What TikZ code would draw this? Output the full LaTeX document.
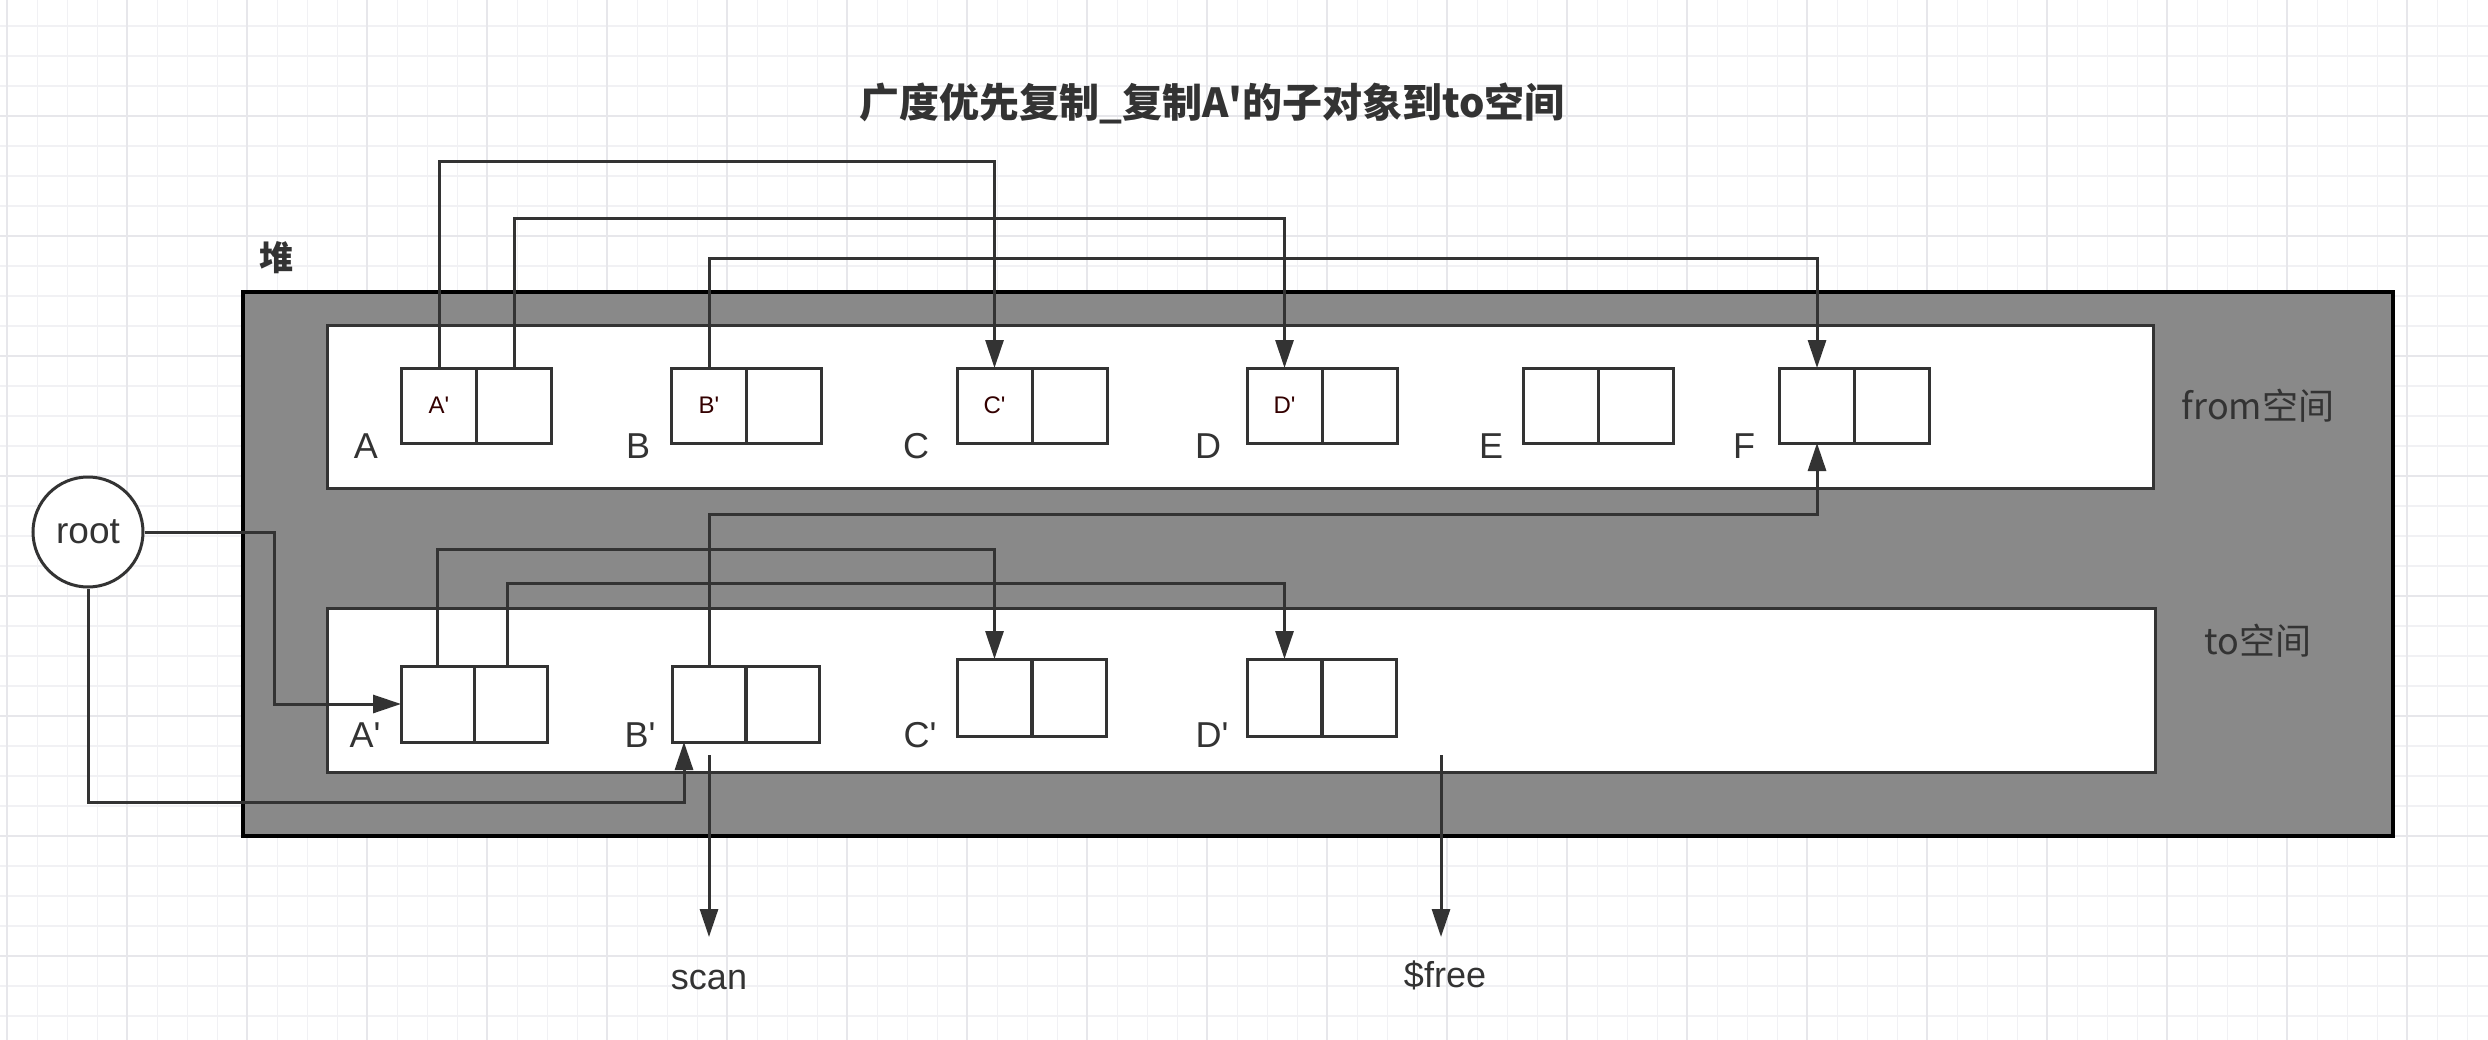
\documentclass[tikz,border=0pt]{standalone}
\usepackage{fontspec}
\setmainfont{Liberation Sans}
\newfontfamily\cjk{Noto Sans CJK SC}
\usetikzlibrary{arrows.meta,calc}
\definecolor{ink}{HTML}{333333}
\definecolor{heapgray}{HTML}{898989}
\definecolor{innerred}{HTML}{330000}
\definecolor{gridminor}{HTML}{F1F1F4}
\definecolor{gridmajor}{HTML}{E7E7EB}
\newcommand\ap{\textquotesingle}
\begin{document}
\begin{tikzpicture}[x=1pt,y=-1pt,
  cell/.style={draw=ink, line width=3pt, fill=white, minimum width=75pt, minimum height=75pt,
    inner sep=0pt, outer sep=0pt, text=innerred, font=\fontsize{24}{26}\selectfont},
  tcell/.style={cell, minimum width=73pt, minimum height=76pt},
  conn/.style={draw=ink, line width=3pt, line join=miter},
  arr/.style={conn, -{Triangle[length=28pt,width=18pt]}},
  lbl/.style={text=ink, inner sep=0pt, font=\fontsize{36}{40}\selectfont},
  cjklbl/.style={text=ink, inner sep=0pt, font=\cjk\fontsize{36}{40}\selectfont},
  space/.style={draw=ink, line width=3pt, fill=white}
]
\useasboundingbox (0,0) rectangle (2488,1040);
\fill[white] (0,0) rectangle (2488,1040);
% grid
\foreach \i in {0,...,82} {\draw[gridminor, line width=1.6pt] ({7.3+30*\i},0) -- ++(0,1040);}
\foreach \i in {0,...,34} {\draw[gridminor, line width=1.6pt] (0,{-4+30*\i}) -- ++(2488,0);}
\foreach \i in {0,...,20} {\draw[gridmajor, line width=2.2pt] ({7.3+120*\i},0) -- ++(0,1040);}
\foreach \i in {0,...,8} {\draw[gridmajor, line width=2.2pt] (0,{116+120*\i}) -- ++(2488,0);}

% title and heap label
\node[text=ink, inner sep=0pt, font=\cjk\bfseries\fontsize{40}{44}\selectfont] (title) at (1212,103)
  {广度优先复制\_复制A\ap 的子对象到to空间};
\node[text=ink, inner sep=0pt, font=\cjk\bfseries\fontsize{34}{38}\selectfont] (heaplbl) at (276,258) {堆};

% heap and spaces
\draw[fill=heapgray, draw=black, line width=4.5pt] (243,292) rectangle (2393,836);
\draw[space] (327,326) rectangle (2153,488);
\draw[space] (327,608) rectangle (2155,772);
\node[cjklbl] (fromlbl) at (2258,406) {from空间};
\node[cjklbl] (tolbl) at (2258,641) {to空间};

% from-space objects
\node[cell] (fAl) at (439,405.5) {A\ap};   \node[cell] (fAr) at (514,405.5) {};
\node[cell] (fBl) at (709,405.5) {B\ap};   \node[cell] (fBr) at (784,405.5) {};
\node[cell] (fCl) at (994.5,405.5) {C\ap}; \node[cell] (fCr) at (1069.5,405.5) {};
\node[cell] (fDl) at (1284.5,405.5) {D\ap};\node[cell] (fDr) at (1359.5,405.5) {};
\node[cell] (fEl) at (1561,405.5) {};      \node[cell] (fEr) at (1636,405.5) {};
\node[cell] (fFl) at (1817,405.5) {};      \node[cell] (fFr) at (1892,405.5) {};
\node[lbl] (lA) at (366,446) {A};
\node[lbl] (lB) at (638,446) {B};
\node[lbl] (lC) at (916,446) {C};
\node[lbl] (lD) at (1208,446) {D};
\node[lbl] (lE) at (1491,446) {E};
\node[lbl] (lF) at (1744,446) {F};

% to-space objects
\node[tcell] (tAl) at (437.5,704) {}; \node[tcell] (tAr) at (510.5,704) {};
\node[tcell] (tBl) at (709,704) {};   \node[tcell] (tBr) at (783,704) {};
\node[tcell, minimum width=74.5pt, minimum height=77pt] (tCl) at (994.5,697.5) {};
\node[tcell, minimum width=74.5pt, minimum height=77pt] (tCr) at (1069.5,697.5) {};
\node[tcell, minimum width=74.5pt, minimum height=77pt] (tDl) at (1284.5,697.5) {};
\node[tcell, minimum width=74.5pt, minimum height=77pt] (tDr) at (1359.5,697.5) {};
\node[lbl] (lAp) at (365,735) {A\ap};
\node[lbl] (lBp) at (640,735) {B\ap};
\node[lbl] (lCp) at (920,735) {C\ap};
\node[lbl] (lDp) at (1212,735) {D\ap};

% root
\node[circle, draw=ink, line width=3pt, fill=white, minimum size=110pt, inner sep=0pt,
  text=ink, font=\fontsize{37}{40}\selectfont] (root) at (88,532) {root};

% connectors in from-space
\draw[arr] (fAl.north) -- ++(0,-206) -| (fCl.north);
\draw[arr] (fAr.north) -- ++(0,-149) -| (fDl.north);
\draw[arr] (fBl.north) -- ++(0,-109) -| (fFl.north);

% connectors in to-space
\draw[arr] (tAl.north) -- ++(0,-117) -| (tCl.north);
\draw[arr] ([xshift=-3pt]tAr.north) -- ++(0,-83) -| (tDl.north);
\draw[arr] (tBl.north) -- ++(0,-152) -| (fFl.south);

% root pointers
\draw[arr] (root.east) -- ++(130,0) |- (tAl.west);
\draw[arr] (root.south) -- ++(0,214) -| ([xshift=-25pt]tBl.south);

% scan and free
\coordinate (scanS) at (709,755);
\coordinate (scanE) at (709,937);
\coordinate (freeS) at (1441,755);
\coordinate (freeE) at (1441,937);
\draw[arr] (scanS) -- (scanE);
\draw[arr] (freeS) -- (freeE);
\node[lbl] (scan) at (709,980) {scan};
\node[lbl] (free) at (1445,975) {\$free};
\end{tikzpicture}
\end{document}
